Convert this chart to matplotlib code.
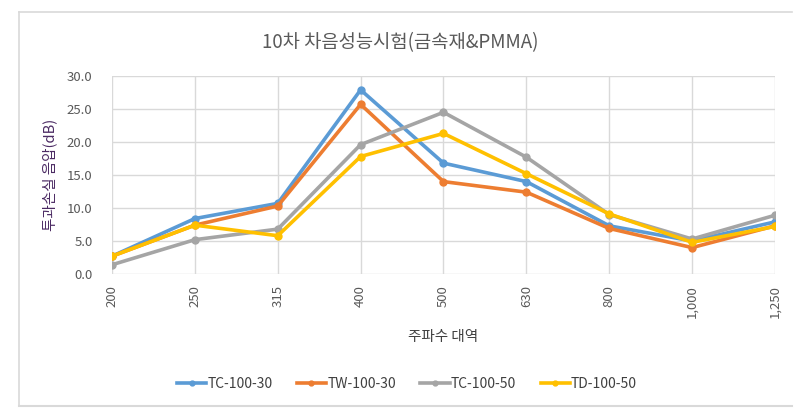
import matplotlib
matplotlib.use("Agg")
import matplotlib.pyplot as plt
from matplotlib.lines import Line2D

plt.rcParams['font.family'] = ['Noto Sans CJK KR', 'DejaVu Sans']

categories = ["200", "250", "315", "400", "500", "630", "800", "1,000", "1,250"]
tc_100_30 = [2.7, 8.4, 10.7, 27.9, 16.8, 14.0, 7.3, 5.0, 7.9]
tw_100_30 = [2.7, 7.4, 10.3, 25.7, 14.0, 12.4, 6.9, 4.0, 7.3]
tc_100_50 = [1.4, 5.2, 6.8, 19.6, 24.5, 17.7, 9.0, 5.3, 8.9]
td_100_50 = [2.7, 7.4, 5.8, 17.8, 21.3, 15.2, 9.1, 4.8, 7.2]
series_names = ["TC-100-30", "TW-100-30", "TC-100-50", "TD-100-50"]
colors = ["#5B9BD5", "#ED7D31", "#A5A5A5", "#FFC000"]
yticks = [0, 5, 10, 15, 20, 25, 30]

W, H = 803, 411
fig = plt.figure(figsize=(W / 100, H / 100), dpi=100)
ax = fig.add_axes([112 / W, 1 - 274 / H, (775 - 112) / W, (274 - 76) / H])

x = list(range(len(categories)))
for vals, name, c in zip([tc_100_30, tw_100_30, tc_100_50, td_100_50], series_names, colors):
    ax.plot(x, vals, color=c, lw=2.6, marker='o', ms=5, label=name, solid_joinstyle='round')

ax.set_xlim(0, len(categories) - 1)
ax.set_ylim(0, 30)
ax.set_yticks(yticks)
ax.set_yticklabels([f"{v:.1f}" for v in yticks], color="#595959", fontsize=9.5)
ax.set_xticks(x)
ax.set_xticklabels(categories, rotation=90, color="#595959", fontsize=9.5, va='top')
ax.grid(True, color="#D9D9D9", lw=1)
ax.set_axisbelow(True)
for s in ax.spines.values():
    s.set_visible(False)
ax.tick_params(length=0, pad=8)
ax.tick_params(axis='y', pad=14)

fig.text(400 / W, 1 - 43 / H, "10차 차음성능시험(금속재&PMMA)", ha='center', va='center',
         fontsize=13.5, color="#595959")
fig.text(443 / W, 1 - 337 / H, "주파수 대역", ha='center', va='center', fontsize=10.5, color="#404040")
fig.text(50 / W, 1 - 175 / H, "투과손실 음압(dB)", rotation=90, ha='center', va='center',
         fontsize=10.5, color="#4B2A63")

handles = [Line2D([], [], color=c, lw=2.6, marker='o', ms=3.5) for c in colors]
fig.legend(handles, series_names, loc='center', bbox_to_anchor=(407 / W, 1 - 384 / H), ncol=4,
           frameon=False, fontsize=10, handlelength=2.1, columnspacing=1.75, handletextpad=0.1,
           labelcolor="#404040")

border = "#D9D9D9"
fig.add_artist(Line2D([19 / W, 19 / W], [1 - 12 / H, 1 - 406 / H], transform=fig.transFigure,
                      color=border, lw=1.2))
fig.add_artist(Line2D([19 / W, 792 / W], [1 - 12 / H, 1 - 12 / H], transform=fig.transFigure,
                      color=border, lw=1.2))
fig.add_artist(Line2D([19 / W, 792 / W], [1 - 406 / H, 1 - 406 / H], transform=fig.transFigure,
                      color=border, lw=1.5))

fig.savefig("out.png", dpi=100)
